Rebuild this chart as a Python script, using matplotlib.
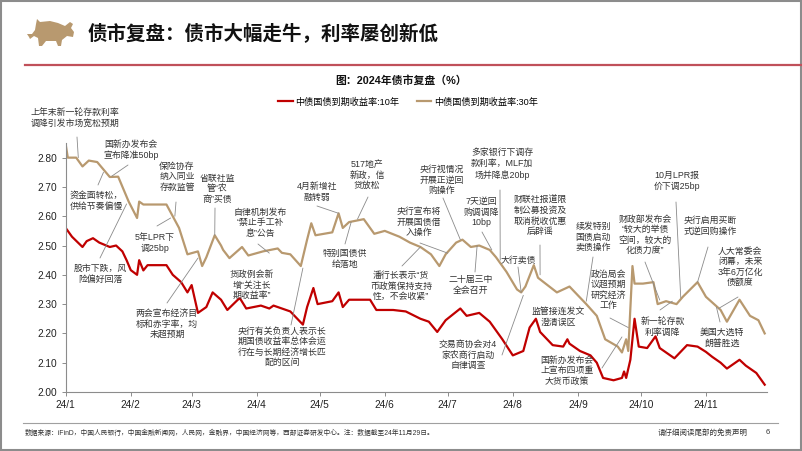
import matplotlib
matplotlib.use('Agg')
import matplotlib.pyplot as plt
import matplotlib.dates as mdates
import pandas as pd
from matplotlib.patches import Polygon, Rectangle

plt.rcParams['font.family'] = ['Liberation Sans', 'Noto Sans CJK SC', 'DejaVu Sans']

# ---- data ----
dates_10y = ['2024-01-01', '2024-01-04', '2024-01-09', '2024-01-11', '2024-01-14', '2024-01-17',
             '2024-01-22', '2024-01-25', '2024-01-28', '2024-01-30', '2024-02-01', '2024-02-04',
             '2024-02-05', '2024-02-07', '2024-02-09', '2024-02-18', '2024-02-21', '2024-02-25',
             '2024-02-28', '2024-03-01', '2024-03-04', '2024-03-08', '2024-03-11', '2024-03-15',
             '2024-03-18', '2024-03-23', '2024-03-24', '2024-03-27', '2024-04-03', '2024-04-07',
             '2024-04-09', '2024-04-17', '2024-04-23', '2024-04-25', '2024-04-28', '2024-04-30',
             '2024-05-07', '2024-05-10', '2024-05-12', '2024-05-15', '2024-05-25', '2024-05-28',
             '2024-06-05', '2024-06-11', '2024-06-18', '2024-06-22', '2024-06-26', '2024-06-30',
             '2024-07-07', '2024-07-10', '2024-07-16', '2024-07-21', '2024-07-27', '2024-08-01',
             '2024-08-06', '2024-08-09', '2024-08-12', '2024-08-14', '2024-08-20', '2024-08-25',
             '2024-08-27', '2024-08-28', '2024-09-02', '2024-09-07', '2024-09-10', '2024-09-13',
             '2024-09-18', '2024-09-22', '2024-09-23', '2024-09-24', '2024-09-26', '2024-09-28',
             '2024-09-30', '2024-10-04', '2024-10-08', '2024-10-10', '2024-10-15', '2024-10-17',
             '2024-10-23', '2024-10-28', '2024-11-01', '2024-11-04', '2024-11-08', '2024-11-11',
             '2024-11-17', '2024-11-20', '2024-11-25', '2024-11-29']
yld_10y = [2.56, 2.53, 2.495, 2.515, 2.525, 2.51,
           2.495, 2.50, 2.48, 2.45, 2.416, 2.40,
           2.45, 2.415, 2.433, 2.433, 2.40, 2.375,
           2.34, 2.365, 2.27, 2.29, 2.34, 2.315,
           2.28, 2.315, 2.32, 2.285, 2.295, 2.285,
           2.295, 2.275, 2.23, 2.29, 2.355, 2.30,
           2.31, 2.34, 2.29, 2.315, 2.315, 2.28,
           2.28, 2.275, 2.25, 2.24, 2.205, 2.245,
           2.285, 2.26, 2.27, 2.24, 2.18, 2.125,
           2.14, 2.22, 2.25, 2.205, 2.16, 2.155,
           2.18, 2.165, 2.14, 2.125, 2.10, 2.048,
           2.04, 2.048, 2.07, 2.048, 2.11, 2.25,
           2.155, 2.15, 2.19, 2.15, 2.125, 2.115,
           2.16, 2.155, 2.137, 2.12, 2.10, 2.08,
           2.11, 2.09, 2.065, 2.025]

dates_30y = ['2024-01-01', '2024-01-02', '2024-01-06', '2024-01-09', '2024-01-12', '2024-01-16',
             '2024-01-22', '2024-01-26', '2024-01-31', '2024-02-04', '2024-02-05', '2024-02-07',
             '2024-02-18', '2024-02-21', '2024-02-24', '2024-02-28', '2024-03-04', '2024-03-06',
             '2024-03-08', '2024-03-12', '2024-03-15', '2024-03-16', '2024-03-19', '2024-03-25',
             '2024-03-28', '2024-04-04', '2024-04-11', '2024-04-13', '2024-04-17', '2024-04-22',
             '2024-04-25', '2024-04-27', '2024-04-29', '2024-05-07', '2024-05-10', '2024-05-12',
             '2024-05-15', '2024-05-22', '2024-05-27', '2024-06-01', '2024-06-08', '2024-06-13',
             '2024-06-18', '2024-06-23', '2024-06-27', '2024-06-30', '2024-07-05', '2024-07-08',
             '2024-07-12', '2024-07-16', '2024-07-21', '2024-07-24', '2024-07-29', '2024-08-03',
             '2024-08-05', '2024-08-07', '2024-08-11', '2024-08-13', '2024-08-22', '2024-08-28',
             '2024-09-05', '2024-09-10', '2024-09-14', '2024-09-20', '2024-09-22', '2024-09-24',
             '2024-09-25', '2024-09-27', '2024-09-28', '2024-10-02', '2024-10-07', '2024-10-09',
             '2024-10-13', '2024-10-18', '2024-10-21', '2024-10-28', '2024-11-01', '2024-11-08',
             '2024-11-11', '2024-11-17', '2024-11-22', '2024-11-26', '2024-11-29']
yld_30y = [2.845, 2.80, 2.80, 2.77, 2.79, 2.785,
           2.734, 2.735, 2.65, 2.594, 2.65, 2.64,
           2.64, 2.60, 2.56, 2.47, 2.48, 2.43,
           2.46, 2.535, 2.50, 2.485, 2.457, 2.495,
           2.466, 2.48, 2.49, 2.475, 2.47, 2.43,
           2.52, 2.576, 2.535, 2.545, 2.61, 2.56,
           2.58, 2.59, 2.54, 2.55, 2.53, 2.51,
           2.495, 2.47, 2.43, 2.47, 2.51, 2.52,
           2.495, 2.50, 2.485, 2.46, 2.41, 2.35,
           2.34, 2.36, 2.433, 2.39, 2.34, 2.36,
           2.30, 2.26, 2.18, 2.155, 2.135, 2.18,
           2.14, 2.43, 2.37, 2.37, 2.375, 2.30,
           2.31, 2.30, 2.325, 2.375, 2.325, 2.28,
           2.24, 2.315, 2.26, 2.245, 2.20]

month_ticks = ['2024-01-01', '2024-02-01', '2024-03-01', '2024-04-01', '2024-05-01', '2024-06-01',
               '2024-07-01', '2024-08-01', '2024-09-01', '2024-10-01', '2024-11-01']
month_labels = ['24/1', '24/2', '24/3', '24/4', '24/5', '24/6', '24/7', '24/8', '24/9', '24/10', '24/11']
y_ticks = [2.00, 2.10, 2.20, 2.30, 2.40, 2.50, 2.60, 2.70, 2.80]

# annotations: text, centre x px, centre y px, leader start px, leader end (date, yield)
notes = [
    ('上年末新一轮存款利率\n调降引发市场宽松预期', 75, 118, (77, 137), ('2024-01-07', 2.80)),
    ('国新办发布会\n宣布降准50bp', 131, 150, (128, 165), ('2024-01-23', 2.737)),
    ('资金面转松，\n供给节奏偏慢', 96, 201, (98, 185), ('2024-01-19', 2.75)),
    ('保险协存\n纳入同业\n存款监管', 177, 177, (176, 202), ('2024-02-22', 2.60)),
    ('省联社监\n管“农\n商”买债', 217, 189, (215, 208), ('2024-03-12', 2.535)),
    ('5年LPR下\n调25bp', 155, 243, (157, 226), ('2024-02-20', 2.594)),
    ('股市下跌，风\n险偏好回落', 100, 274, (100, 258), ('2024-01-30', 2.642)),
    ('两会宣布经济目\n标和赤字率，均\n未超预期', 167, 324, (167, 303), ('2024-03-04', 2.457)),
    ('自律机制发布\n“禁止手工补\n息”公告', 260, 223, (258, 244), ('2024-04-07', 2.474)),
    ('货政例会新\n增“关注长\n期收益率”', 252, 285, None, None),
    ('央行有关负责人表示长\n期国债收益率总体会运\n行在与长期经济增长匹\n配的区间', 282, 347, (291, 325), ('2024-04-23', 2.423)),
    ('4月新增社\n融转弱', 317, 192, (317, 206), ('2024-05-10', 2.61)),
    ('517地产\n新政，信\n贷放松', 367, 175, (368, 197), ('2024-05-19', 2.59)),
    ('特别国债供\n给落地', 345, 259, (345, 244), ('2024-05-16', 2.58)),
    ('央行视情况\n开展正逆回\n购操作', 442, 180, (443, 198), ('2024-07-07', 2.52)),
    ('央行宣布将\n开展国债借\n入操作', 419, 222, (420, 243), ('2024-07-01', 2.474)),
    ('潘行长表示“货\n币政策保持支持\n性，不会收紧”', 401, 286, (402, 266), ('2024-06-18', 2.495)),
    ('7天逆回\n购调调降\n10bp', 481, 212, (482, 232), ('2024-07-22', 2.485)),
    ('二十届三中\n全会召开', 471, 285, (475, 272), ('2024-07-15', 2.50)),
    ('多家银行下调存\n款利率，MLF加\n场并降息20bp', 502, 164, (500, 190), ('2024-07-26', 2.45)),
    ('财联社报道限\n制公募投资及\n取消税收优惠\n后辟谣', 540, 216, (540, 245), ('2024-08-14', 2.40)),
    ('大行卖债', 518, 260, (518, 267), ('2024-08-05', 2.34)),
    ('交易商协会对4\n家农商行启动\n自律调查', 468, 355, (502, 355), ('2024-08-06', 2.33)),
    ('监管接连发文\n澄清误区', 558, 317, None, None),
    ('国新办发布会\n上宣布四项重\n大货币政策', 567, 371, (602, 368), ('2024-09-22', 2.188)),
    ('续发特别\n国债启动\n卖债操作', 593, 237, (593, 257), ('2024-09-05', 2.31)),
    ('政治局会\n议超预期\n研究经济\n工作', 608, 290, (610, 318), ('2024-09-25', 2.22)),
    ('财政部发布会\n“较大的举债\n空间，较大的\n化债力度”', 645, 235, (645, 262), ('2024-10-10', 2.314)),
    ('10月LPR报\n价下调25bp', 677, 181, (676, 202), ('2024-10-20', 2.322)),
    ('央行启用买断\n式逆回购操作', 710, 226, (708, 247), ('2024-10-28', 2.375)),
    ('人大常委会\n闭幕，未来\n3年6万亿化\n债额度', 740, 267, (738, 297), ('2024-11-07', 2.285)),
    ('美国大选特\n朗普胜选', 722, 338, (720, 322), ('2024-11-06', 2.29)),
    ('新一轮存款\n利率调降', 663, 327, (660, 310), ('2024-10-16', 2.31)),
]

W, H = 802, 451
fig = plt.figure(figsize=(W / 100, H / 100), dpi=100)
fig.patch.set_facecolor('white')

ax = fig.add_axes([65.7 / W, 1 - 392 / H, (766.8 - 65.7) / W, (392 - 143) / H])
ax.set_facecolor('none')
x10 = pd.to_datetime(dates_10y)
x30 = pd.to_datetime(dates_30y)
l10, = ax.plot(x10, yld_10y, color='#C00000', lw=1.6, label='中债国债到期收益率:10年')
l30, = ax.plot(x30, yld_30y, color='#B8996F', lw=1.6, label='中债国债到期收益率:30年')

ax.set_xlim(pd.Timestamp('2024-01-01'), pd.Timestamp('2024-11-30'))
ax.set_ylim(2.00, 2.85)
ax.set_yticks(y_ticks)
ax.set_yticklabels(['%.2f' % v for v in y_ticks])
ax.set_xticks(pd.to_datetime(month_ticks))
ax.set_xticklabels(month_labels)
for s in ['top', 'right']:
    ax.spines[s].set_visible(False)
for s in ['left', 'bottom']:
    ax.spines[s].set_color('#8c8c8c')
    ax.spines[s].set_linewidth(0.8)
ax.tick_params(axis='both', colors='#8c8c8c', labelcolor='#222222', labelsize=7.3,
               length=3, width=0.7, pad=3)

ax.legend(handles=[l10, l30], loc='center', bbox_to_anchor=(408 / W, 1 - 102 / H),
          bbox_transform=fig.transFigure, ncol=2, frameon=False, fontsize=6.6,
          handlelength=1.6, handletextpad=0.3, columnspacing=1.9)

# annotations
for txt, cx, cy, p0, p1 in notes:
    fig.text(cx / W, 1 - cy / H, txt, ha='center', va='center', multialignment='center',
             fontsize=6.4, color='#333333', linespacing=1.22)
    if p0 is not None:
        ax.annotate('', xy=(mdates.date2num(pd.Timestamp(p1[0])), p1[1]), xycoords='data',
                    xytext=(p0[0], H - p0[1]), textcoords='figure pixels',
                    arrowprops=dict(arrowstyle='-', color='#8a8a8a', lw=0.6,
                                    shrinkA=0, shrinkB=0),
                    annotation_clip=False)

# header
ov = fig.add_axes([0, 0, 1, 1], zorder=-1)
ov.set_xlim(0, W)
ov.set_ylim(H, 0)
ov.axis('off')
bull = [(27, 34), (32, 34), (35, 30), (36, 24), (37, 19), (40, 22), (50, 21), (58, 23),
        (65, 26), (70, 22), (73, 24), (71, 28), (74, 32), (73, 37), (67, 36), (62, 40),
        (61, 46), (58, 46), (56, 41), (46, 41), (42, 46), (39, 46), (38, 38), (34, 36),
        (30, 39), (29, 37)]
ov.add_patch(Polygon(bull, closed=True, facecolor='#B8996F', edgecolor='none'))
ov.text(88, 33, '债市复盘：债市大幅走牛，利率屡创新低', ha='left', va='center',
        fontsize=14, fontweight='bold', color='#111111', family=['Noto Sans CJK SC'])
ov.plot([25, 801], [65, 65], color='#C0505A', lw=1.6)
ov.text(401, 80, '图：2024年债市复盘（%）', ha='center', va='center', fontsize=7.8,
        fontweight='bold', color='#111111')

# footer
ov.plot([23, 778], [423, 423], color='#a0a0a0', lw=0.8)
ov.text(25, 433, '数据来源：iFinD，中国人民银行，中国金融新闻网，人民网，金融界，中国经济网等，'
        '西部证券研发中心。注：数据截至24年11月29日。', ha='left', va='center',
        fontsize=4.85, color='#333333')
ov.text(658, 433, '请仔细阅读尾部的免责声明', ha='left', va='center', fontsize=5.4, color='#333333')
ov.text(768, 433, '6', ha='center', va='center', fontsize=5.4, color='#333333')
ov.add_patch(Rectangle((0.8, 0.8), W - 1.6, H - 1.6, fill=False, edgecolor='#8c8c8c', lw=1.5))

fig.savefig('out.png', dpi=100, facecolor='white')
